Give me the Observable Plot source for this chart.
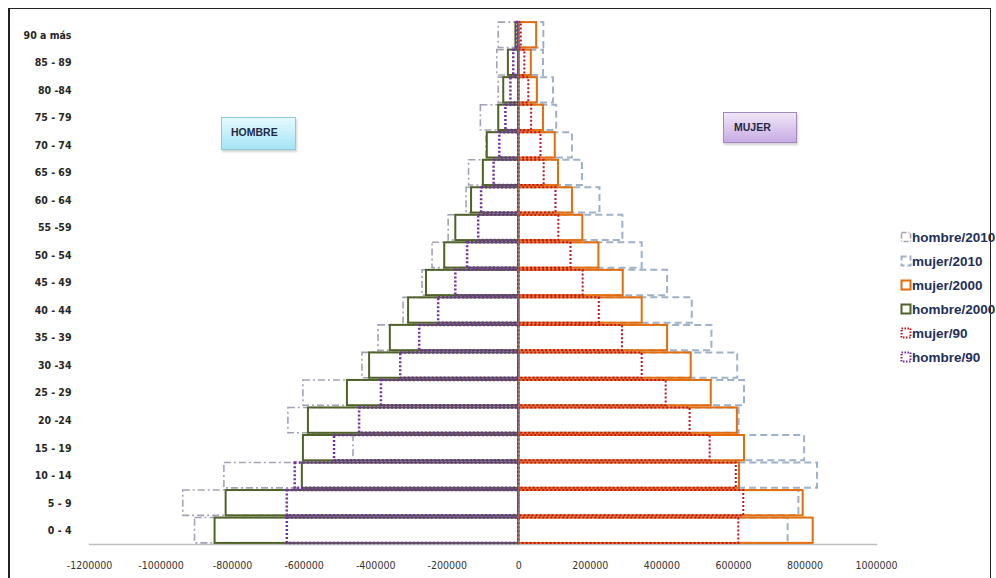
<!DOCTYPE html>
<html>
<head>
<meta charset="utf-8">
<script src="https://cdn.jsdelivr.net/npm/d3@7"></script>
<script src="https://cdn.jsdelivr.net/npm/@observablehq/plot@0.6"></script>
<style>
  html, body { margin: 0; padding: 0; background: #fff; }
  #wrap { position: relative; width: 996px; height: 578px; overflow: hidden; }
  #border { position: absolute; left: 8px; top: 8px; width: 980px; height: 600px; border-left: 2px solid #222; border-top: 1.5px solid #222; border-right: 1.5px solid #222; }
  .tag { position: absolute; font-family: "Liberation Sans", Arial, sans-serif; font-weight: bold; font-size: 10.5px; color: #1f2a44; box-sizing: border-box; box-shadow: 1px 2px 2px rgba(0,0,0,0.18); }
  #hombre { left: 221px; top: 117px; width: 75px; height: 33px; padding: 8px 0 0 9px; background: linear-gradient(#e6fafe, #a4e4f5); border: 1px solid #8ccbdc; }
  #mujer { left: 723px; top: 112px; width: 74px; height: 31px; padding: 8px 0 0 10px; background: linear-gradient(#f0e6f8, #c8ace4); border: 1px solid #a08abb; }
  #legend { position: absolute; left: 900px; top: 225px; font-family: "Liberation Sans", Arial, sans-serif; font-weight: bold; font-size: 13.5px; color: #1f2f5a; white-space: nowrap; }
  #legend .item { height: 24px; display: flex; align-items: center; }
  #legend svg { margin-right: 0px; }
  #chart { position: absolute; left: 0; top: 0; }
</style>
</head>
<body>
<div id="wrap">
  <div id="chart"></div>
  <div id="border"></div>
  <div class="tag" id="hombre">HOMBRE</div>
  <div class="tag" id="mujer">MUJER</div>
  <div id="legend"></div>
</div>
<script>
const ages = ["90 a más","85 - 89","80 -84","75 - 79","70 - 74","65 - 69","60 - 64","55 -59","50 - 54","45 - 49","40 - 44","35 - 39","30 -34","25 - 29","20 -24","15 - 19","10 - 14","5 - 9","0 - 4"];

const hombre2010 = [-56000,-60000,-56000,-106000,-90000,-139000,-146000,-196000,-241000,-269000,-322000,-392000,-437000,-602000,-644000,-462000,-823000,-938000,-905000];
const mujer2010  = [70000,69000,97000,106000,150000,178000,227000,291000,345000,416000,485000,540000,612000,631000,616000,799000,835000,783000,753000];
const mujer2000  = [50000,35000,52000,69000,102000,111000,150000,179000,224000,292000,345000,416000,482000,538000,611000,631000,617000,795000,823000];
const hombre2000 = [-8000,-29000,-42000,-56000,-88000,-99000,-132000,-176000,-207000,-258000,-308000,-359000,-417000,-479000,-588000,-602000,-605000,-818000,-849000];
const mujer90    = [7000,17000,28000,36000,62000,71000,104000,112000,146000,180000,225000,290000,345000,412000,479000,535000,608000,629000,615000];
const hombre90   = [-4000,-14000,-22000,-36000,-53000,-69000,-104000,-112000,-143000,-176000,-224000,-277000,-330000,-384000,-445000,-515000,-625000,-647000,-647000];

const xTicks = [-1200000,-1000000,-800000,-600000,-400000,-200000,0,200000,400000,600000,800000,1000000];

const seriesDefs = [
  {name: "hombre/2010", values: hombre2010, stroke: "#a2a2b6", width: 1.6, dash: "7,3,2,3", lgDash: "5,2,1,2"},
  {name: "mujer/2010",  values: mujer2010,  stroke: "#9fb1c8", width: 2,   dash: "7,4", lgDash: "5,3"},
  {name: "mujer/2000",  values: mujer2000,  stroke: "#e46c0a", width: 2,   dash: null, lgDash: null},
  {name: "hombre/2000", values: hombre2000, stroke: "#4f6228", width: 2,   dash: null, lgDash: null},
  {name: "mujer/90",    values: mujer90,    stroke: "#c0141e", width: 2,   dash: "2,2", lgDash: "1.5,1.5"},
  {name: "hombre/90",   values: hombre90,   stroke: "#7030a0", width: 2.5, dash: "2,2", lgDash: "1.5,1.5"}
];

const drawOrder = ["hombre/2010","mujer/2010","hombre/2000","mujer/2000","hombre/90","mujer/90"];

const barMarks = drawOrder.map(n => {
  const s = seriesDefs.find(d => d.name === n);
  const rows = ages.map((a, i) => ({age: a, value: s.values[i]}));
  return Plot.barX(rows, {
    y: "age", x: "value",
    fill: "none", stroke: s.stroke, strokeWidth: s.width,
    strokeDasharray: s.dash || undefined
  });
});

const chart = Plot.plot({
  width: 996,
  height: 578,
  marginLeft: 89,
  marginRight: 120,
  marginTop: 21,
  marginBottom: 34,
  style: {fontFamily: "'Liberation Sans Narrow', 'DejaVu Sans Condensed', sans-serif", fontSize: "10px", color: "#333", background: "transparent"},
  x: {domain: [-1200000, 1000000], label: null},
  y: {domain: ages, paddingInner: 0.08, paddingOuter: 0.04, round: false, axis: null},
  marks: [
    Plot.frame({anchor: "bottom", stroke: "#bfbfbf", strokeWidth: 1.5}),
    ...barMarks,
    Plot.ruleX([0], {stroke: "#7f7f7f", strokeWidth: 1}),
    Plot.axisX({ticks: xTicks, tickFormat: d => String(d), tickSize: 0, tickPadding: 17, fontSize: 10.5, label: null}),
    Plot.text(ages, {y: d => d, text: d => d, frameAnchor: "left", dx: -18, textAnchor: "end", fontWeight: "bold", fontSize: 10.5, fill: "#262626"})
  ]
});
document.getElementById("chart").appendChild(chart);

// legend
const legendOrder = ["hombre/2010","mujer/2010","mujer/2000","hombre/2000","mujer/90","hombre/90"];
const legend = document.getElementById("legend");
legendOrder.forEach(n => {
  const s = seriesDefs.find(d => d.name === n);
  const item = document.createElement("div");
  item.className = "item";
  item.innerHTML = `<svg width="12" height="12"><rect x="1.5" y="1.5" width="9" height="9" fill="none" stroke="${s.stroke}" stroke-width="${Math.min(s.width,2)}" ${s.lgDash ? `stroke-dasharray="${s.lgDash}"` : ""}/></svg><span>${n}</span>`;
  legend.appendChild(item);
});
</script>
</body>
</html>
